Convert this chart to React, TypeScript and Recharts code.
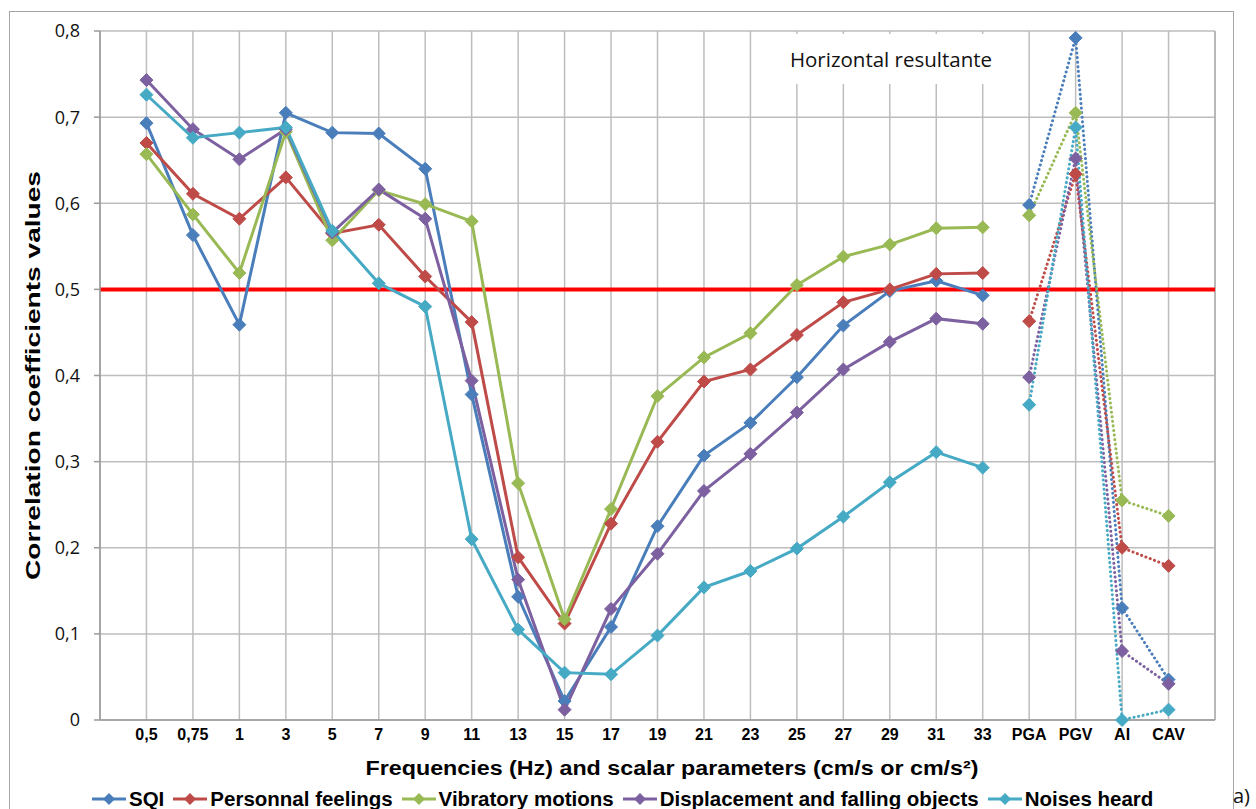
import React from 'react';
import { LineChart, Line, XAxis, YAxis, CartesianGrid, ReferenceLine, Legend, Label } from 'recharts';

const categories = ['0,5', '0,75', '1', '3', '5', '7', '9', '11', '13', '15', '17', '19', '21', '23', '25', '27', '29', '31', '33', 'PGA', 'PGV', 'AI', 'CAV'];
const FREQ_COUNT = 19;

const sqi = [0.693, 0.563, 0.459, 0.705, 0.682, 0.681, 0.640, 0.378, 0.143, 0.022, 0.108, 0.225, 0.307, 0.345, 0.398, 0.458, 0.498, 0.510, 0.493, 0.598, 0.792, 0.130, 0.047];
const personnalFeelings = [0.670, 0.611, 0.582, 0.630, 0.565, 0.575, 0.515, 0.462, 0.189, 0.112, 0.228, 0.323, 0.393, 0.407, 0.447, 0.485, 0.500, 0.518, 0.519, 0.463, 0.634, 0.200, 0.179];
const vibratoryMotions = [0.657, 0.587, 0.519, 0.683, 0.557, 0.615, 0.599, 0.579, 0.275, 0.117, 0.245, 0.376, 0.421, 0.449, 0.505, 0.538, 0.552, 0.571, 0.572, 0.586, 0.705, 0.255, 0.237];
const displacement = [0.743, 0.686, 0.651, 0.686, 0.566, 0.616, 0.582, 0.394, 0.163, 0.012, 0.129, 0.193, 0.266, 0.309, 0.357, 0.407, 0.439, 0.466, 0.460, 0.398, 0.652, 0.080, 0.042];
const noisesHeard = [0.726, 0.676, 0.682, 0.688, 0.568, 0.507, 0.480, 0.210, 0.105, 0.055, 0.053, 0.098, 0.154, 0.173, 0.199, 0.236, 0.276, 0.311, 0.293, 0.366, 0.688, 0.000, 0.012];

const yTicks = [0, 0.1, 0.2, 0.3, 0.4, 0.5, 0.6, 0.7, 0.8];
const threshold = 0.5;

const seriesDefs = [
  { key: 'sqi', name: 'SQI', values: sqi, color: '#4A7EBB' },
  { key: 'pf', name: 'Personnal feelings', values: personnalFeelings, color: '#BE4B48' },
  { key: 'vm', name: 'Vibratory motions', values: vibratoryMotions, color: '#98B954' },
  { key: 'dfo', name: 'Displacement and falling objects', values: displacement, color: '#7D60A0' },
  { key: 'nh', name: 'Noises heard', values: noisesHeard, color: '#46AAC5' },
];

const data = categories.map((label, i) => {
  const row: any = { x: i + 1, label };
  seriesDefs.forEach((s) => {
    row[s.key] = i < FREQ_COUNT ? s.values[i] : null;
    row[s.key + '_s'] = i >= FREQ_COUNT ? s.values[i] : null;
  });
  return row;
});

const xTicks = categories.map((_, i) => i + 1);

const makeDot = (color: string) => (props: any) => {
  const { cx, cy, index } = props;
  if (cx == null || cy == null || props.value == null) return <g key={'d' + index} />;
  const r = 6.5;
  return (
    <path
      key={'d' + index}
      d={`M${cx},${cy - r}L${cx + r},${cy}L${cx},${cy + r}L${cx - r},${cy}Z`}
      fill={color}
      stroke={color}
      strokeWidth={1}
    />
  );
};

const LegendContent = () => (
  <div style={{ display: 'flex', alignItems: 'center', fontFamily: 'Arial, "Liberation Sans", sans-serif', fontWeight: 'bold', fontSize: 20.5, color: '#000', whiteSpace: 'nowrap' }}>
    {seriesDefs.map((s) => (
      <div key={s.key} style={{ display: 'flex', alignItems: 'center', marginRight: 8 }}>
        <svg width={36} height={14} style={{ marginRight: 2 }}>
          <line x1={1} y1={7} x2={35} y2={7} stroke={s.color} strokeWidth={3} />
          <path d="M18,1L24,7L18,13L12,7Z" fill={s.color} />
        </svg>
        <span>{s.name}</span>
      </div>
    ))}
  </div>
);

const YTitle = (props: any) => {
  const vb = props.viewBox;
  const cx = 33;
  const cy = vb.y + vb.height / 2;
  return (
    <text
      x={cx}
      y={cy}
      transform={`rotate(-90, ${cx}, ${cy})`}
      textAnchor="middle"
      dominantBaseline="central"
      fontFamily="Arial, 'Liberation Sans', sans-serif"
      fontWeight="bold"
      fontSize={20}
      fill="#000"
      textLength={409}
      lengthAdjust="spacingAndGlyphs"
    >
      Correlation coefficients values
    </text>
  );
};

const XTitle = () => {
  const cx = 672;
  const cy = 768;
  return (
    <text
      x={cx}
      y={cy}
      textAnchor="middle"
      dominantBaseline="central"
      fontFamily="Arial, 'Liberation Sans', sans-serif"
      fontWeight="bold"
      fontSize={20}
      fill="#000"
      textLength={613}
      lengthAdjust="spacingAndGlyphs"
    >
      Frequencies (Hz) and scalar parameters (cm/s or cm/s²)
    </text>
  );
};

export default function App() {
  return (
    <div style={{ position: 'absolute', left: 0, top: 0, width: 1256, height: 809, overflow: 'hidden', background: '#fff' }}>
      <div style={{ position: 'absolute', left: 9, top: 11, width: 1223, height: 900, border: '1px solid #a6a6a6' }} />
      <div style={{ position: 'absolute', left: 0, top: 0 }}>
        <LineChart width={1256} height={809} data={data} margin={{ top: 31, right: 41, left: 40, bottom: 49 }}>
          <CartesianGrid stroke="#bdbdbd" strokeWidth={1.5} />
          <XAxis
            dataKey="x"
            type="number"
            domain={[0, 24]}
            ticks={xTicks}
            interval={0}
            tickFormatter={(v: number) => categories[v - 1] ?? ''}
            tickLine={false}
            tickSize={0}
            tickMargin={9}
            axisLine={{ stroke: '#9a9a9a', strokeWidth: 1.5 }}
            tick={{ fontFamily: 'Arial, "Liberation Sans", sans-serif', fontWeight: 'bold', fontSize: 16, fill: '#000' }}
            height={40}
          >
            <Label content={<XTitle />} />
          </XAxis>
          <YAxis
            type="number"
            domain={[0, 0.8]}
            ticks={yTicks}
            interval={0}
            tickFormatter={(v: number) => (v === 0 ? '0' : v.toFixed(1).replace('.', ','))}
            tickSize={6}
            tickMargin={14}
            tickLine={{ stroke: '#9a9a9a', strokeWidth: 1.5 }}
            axisLine={{ stroke: '#9a9a9a', strokeWidth: 1.5 }}
            tick={{ fontFamily: '"Open Sans", sans-serif', fontSize: 18, fill: '#111' }}
            width={60}
          >
            <Label content={<YTitle />} />
          </YAxis>
          <ReferenceLine x={24} stroke="#b0b0b0" strokeWidth={1.5} />
          <ReferenceLine y={threshold} stroke="#ff0000" strokeWidth={4} />
          {seriesDefs.map((s) => (
            <Line
              key={s.key}
              dataKey={s.key}
              name={s.name}
              stroke={s.color}
              strokeWidth={3}
              dot={makeDot(s.color)}
              activeDot={false}
              isAnimationActive={false}
              connectNulls={false}
            />
          ))}
          {seriesDefs.map((s) => (
            <Line
              key={s.key + '_s'}
              dataKey={s.key + '_s'}
              name={s.name + ' (scalar)'}
              stroke={s.color}
              strokeWidth={3}
              strokeDasharray="0.1 4.5"
              strokeLinecap="round"
              dot={makeDot(s.color)}
              activeDot={false}
              legendType="none"
              isAnimationActive={false}
              connectNulls={false}
            />
          ))}
          <Legend
            verticalAlign="middle"
            align="center"
            layout="horizontal"
            content={<LegendContent />}
            wrapperStyle={{ position: 'absolute', left: 91, top: 787, width: 1150 }}
          />
        </LineChart>
      </div>
      <div style={{ position: 'absolute', left: 782, top: 34, width: 218, height: 50, background: '#fff', display: 'flex', alignItems: 'center', justifyContent: 'center', fontFamily: '"Open Sans", sans-serif', fontSize: 20.5, color: '#111' }}>
        Horizontal resultante
      </div>
      <div style={{ position: 'absolute', left: 1233, top: 782, fontFamily: '"Open Sans", sans-serif', fontSize: 20, color: '#111' }}>a)</div>
    </div>
  );
}
